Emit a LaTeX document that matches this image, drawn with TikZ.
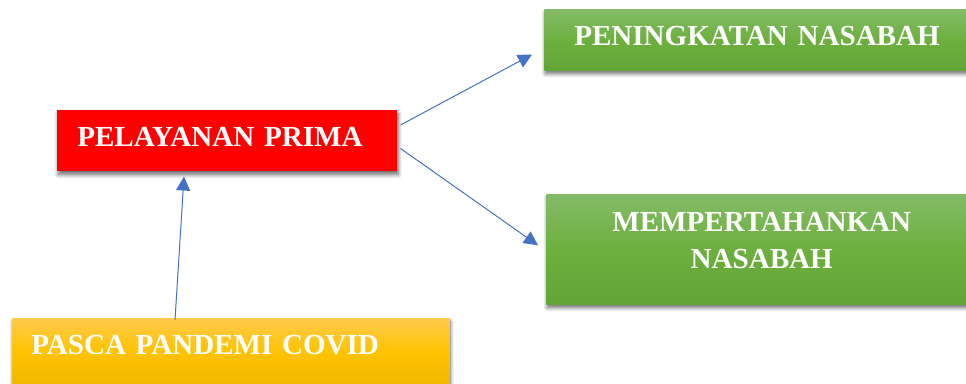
\documentclass[tikz,border=0pt]{standalone}
\usepackage{fontspec}
\setmainfont{Liberation Serif}
\usepackage{tikz}
\usetikzlibrary{arrows.meta}
\usetikzlibrary{shadows.blur}
\usetikzlibrary{positioning}
\usepackage{xcolor}
\definecolor{arrowblue}{HTML}{4472C4}
\definecolor{primared}{HTML}{FF0000}
\definecolor{greentop}{HTML}{84BB67}
\definecolor{greenmid}{HTML}{6DB03F}
\definecolor{greenbot}{HTML}{62A537}
\definecolor{yellowtop}{HTML}{FFCA4E}
\definecolor{yellowmid}{HTML}{FFC300}
\definecolor{yellowbot}{HTML}{F0B700}
\tikzset{every text node part/.style={font={\bfseries\fontsize{21.8}{27.75}\selectfont}, text=white}}
\tikzstyle{box} = [anchor=north west, inner ysep=0pt, blur shadow={shadow xshift=0.75pt, shadow yshift=-2.5pt, shadow blur radius=3pt, shadow blur steps=8, shadow opacity=60}]
\tikzstyle{onebox} = [box, minimum height=45.75pt, text depth=5.25pt, align=left]
\tikzstyle{greenfill} = [top color=greentop, bottom color=greenbot, middle color=greenmid]
\tikzstyle{yellowfill} = [top color=yellowtop, bottom color=yellowbot, middle color=yellowmid]
\tikzstyle{ln} = [draw=arrowblue, line width=0.75pt, -{Triangle[length=10.5pt, width=10.5pt]}]

\begin{document}
\begin{tikzpicture}[x=0.75pt, y=-0.75pt]
  \useasboundingbox (0,0) rectangle (966,383);
  \node[onebox, fill=primared, text width=225pt, inner xsep=15pt] (prima) at (57,110) {PELAYANAN PRIMA};
  \node[onebox, greenfill, text width=279pt, inner xsep=22.5pt] (peningkatan) at (544,9) {PENINGKATAN NASABAH};
  \node[box, greenfill, minimum width=323.25pt, minimum height=82.5pt, align=center] (pertahankan) at (546,194) {MEMPERTAHANKAN\\NASABAH\rule[-13.35pt]{0pt}{0pt}};
  \node[onebox, yellowfill, text width=299.25pt, inner xsep=14.25pt, minimum height=50.25pt, text depth=10.35pt] (pasca) at (12,318) {PASCA PANDEMI COVID};
  % arrows
  \draw[ln] ([xshift=122.25pt, yshift=-1.5pt]pasca.north west) -- ([xshift=95.25pt, yshift=-3.75pt]prima.south west);
  \draw[ln] ([xshift=2.25pt, yshift=-11.25pt]prima.north east) -- ([xshift=-9pt, yshift=12pt]peningkatan.south west);
  \draw[ln] ([xshift=2.25pt, yshift=17.25pt]prima.south east) -- ([xshift=-6pt, yshift=3pt]pertahankan.west);
\end{tikzpicture}
\end{document}
